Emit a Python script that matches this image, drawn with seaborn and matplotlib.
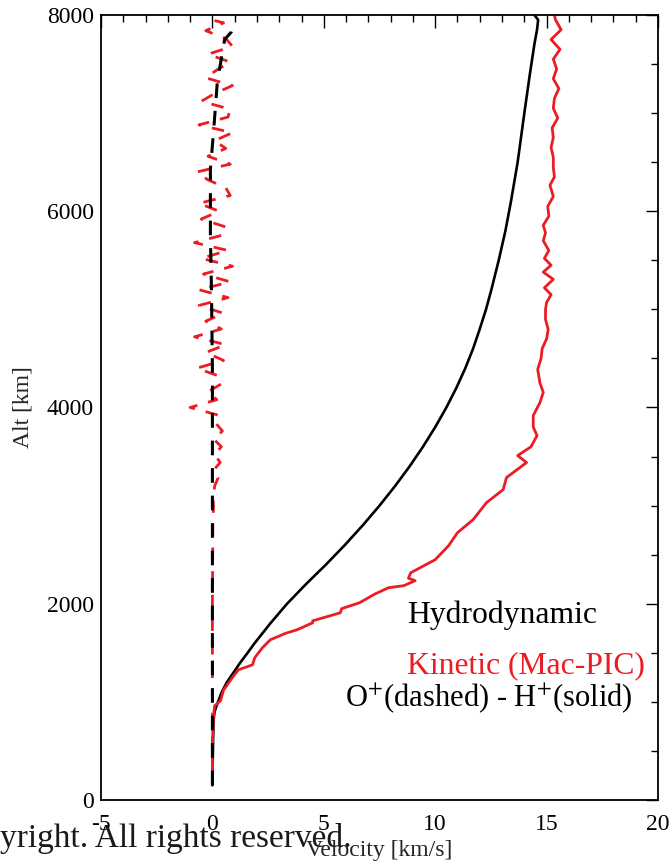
import numpy as np
import pandas as pd
import seaborn as sns
import matplotlib.pyplot as plt
from matplotlib.ticker import MultipleLocator

# H+ hydrodynamic (solid black)
h_hyd_alt = [150, 600, 800, 850, 900, 950, 1000, 1100, 1200, 1300, 1400, 1500, 1600, 1800, 2000,
             2200, 2400, 2600, 2800, 3000, 3200, 3400, 3600, 3800, 4000, 4200, 4400, 4600, 4800,
             5000, 5200, 5500, 5800, 6100, 6500, 7000, 7400, 7700, 7850, 7950, 8000]
h_hyd_v = [0.0, 0.03, 0.05, 0.07, 0.1, 0.17, 0.25, 0.42, 0.65, 0.95, 1.25, 1.58, 1.9, 2.6, 3.35,
           4.2, 5.1, 5.95, 6.75, 7.5, 8.2, 8.85, 9.45, 10.0, 10.5, 10.95, 11.35, 11.7, 12.0,
           12.28, 12.52, 12.85, 13.15, 13.4, 13.7, 14.0, 14.25, 14.45, 14.57, 14.62, 14.45]

# H+ kinetic (solid red)
h_kin_alt = [280, 500, 800, 918, 960, 1010, 1120, 1250, 1327, 1378, 1450, 1551, 1633, 1700, 1735,
             1806, 1826, 1908, 1950, 2010, 2100, 2163, 2185, 2235, 2260, 2316, 2449, 2592, 2724,
             2857, 3030, 3163, 3286, 3439, 3510, 3600, 3714, 3800, 3918, 4050, 4153, 4250, 4388,
             4500, 4600, 4700, 4796, 4900, 5000, 5071, 5150, 5220, 5306, 5380, 5450, 5520, 5600,
             5700, 5780, 5857, 5950, 6050, 6150, 6265, 6350, 6450, 6550, 6650, 6750, 6850, 6950,
             7050, 7150, 7250, 7350, 7450, 7550, 7650, 7750, 7850, 7950, 8000]
h_kin_v = [0.0, 0.0, 0.03, 0.08, 0.1, 0.36, 0.5, 0.9, 1.17, 1.8, 1.9, 2.24, 2.6, 3.3, 3.8,
           4.5, 4.5, 5.74, 5.8, 6.6, 7.3, 7.9, 8.6, 9.1, 8.8, 8.9, 10.0, 10.6, 11.0,
           11.7, 12.3, 13.05, 13.2, 14.1, 13.7, 14.3, 14.57, 14.4, 14.4, 14.7, 14.85, 14.7, 14.6,
           14.75, 14.8, 15.0, 15.07, 14.95, 14.95, 15.0, 15.2, 14.9, 15.3, 14.85, 15.2, 14.9, 15.1,
           14.85, 14.95, 14.85, 15.1, 15.05, 15.3, 15.15, 15.35, 15.3, 15.3, 15.2, 15.3, 15.25, 15.5,
           15.3, 15.35, 15.55, 15.3, 15.45, 15.3, 15.6, 15.2, 15.65, 15.4, 15.35]

# O+ hydrodynamic (dashed black)
o_hyd_alt = [150, 1000, 2000, 3000, 4390, 5170, 5755, 6430, 6806, 7316, 7622, 7750, 7827, 7870]
o_hyd_v = [0.0, 0.0, 0.0, 0.0, 0.0, -0.04, -0.09, -0.09, 0.05, 0.22, 0.45, 0.55, 0.85, 0.9]

# O+ kinetic (dashed red)
o_kin_alt = [280, 1000, 2000, 2800, 3000, 3100, 3160,
             3200, 3280, 3360, 3440, 3520, 3600, 3680, 3760, 3840, 3920,
             4000, 4080, 4160, 4240, 4320, 4400, 4480, 4560, 4640, 4720,
             4800, 4880, 4960, 5040, 5120, 5200, 5280, 5360, 5440, 5520,
             5600, 5680, 5760, 5840, 5920, 6000, 6080, 6160, 6240, 6320,
             6400, 6480, 6560, 6640, 6720, 6800, 6880, 6960, 7040, 7120,
             7200, 7280, 7360, 7440, 7520, 7600, 7680, 7760, 7840, 7920, 7960]
o_kin_v = [0.0, 0.0, 0.0, 0.02, 0.05, 0.02, 0.08,
           0.1, 0.25, 0.05, 0.35, 0.1, 0.4, 0.05, 0.45, 0.15, 0.3,
           -1.0, 0.2, -0.2, 0.4, 0.3, -0.7, 0.5, -0.3, 0.6, -0.8,
           0.4, -0.3, 0.5, -0.6, 0.7, -0.6, 0.8, -0.4, 0.9, -0.5,
           0.7, -0.8, 0.5, 0.6, -0.5, 0.3, -0.6, 0.8, 0.6, -0.2,
           -0.7, 0.8, -0.2, 0.6, 0.1, 0.9, -0.6, 0.7, 0.8, -0.5,
           0.1, 0.9, -0.3, 0.2, 0.8, -0.2, 0.9, 0.6, -0.3, 0.5, -0.2]

red = "#ec1c24"

sns.set_style("white")
plt.rcParams["font.family"] = ["Liberation Serif", "DejaVu Serif"]
plt.rcParams["mathtext.fontset"] = "stix"
plt.rcParams["axes.unicode_minus"] = False

fig = plt.figure(figsize=(6.72, 8.66), dpi=100)
ax = fig.add_axes([0.1503, 0.0762, 0.8289, 0.9065])

sns.lineplot(x=h_hyd_v, y=h_hyd_alt, sort=False, estimator=None, color="black", lw=1.9, ax=ax)
sns.lineplot(x=h_kin_v, y=h_kin_alt, sort=False, estimator=None, color=red, lw=2.0, ax=ax)
sns.lineplot(x=o_kin_v, y=o_kin_alt, sort=False, estimator=None, color=red, lw=2.0,
             linestyle=(0, (4.5, 4.0)), ax=ax)
sns.lineplot(x=o_hyd_v, y=o_hyd_alt, sort=False, estimator=None, color="black", lw=2.2,
             linestyle=(0, (4.8, 4.2)), ax=ax)

ax.set_xlim(-5, 20)
ax.set_ylim(0, 8000)
ax.xaxis.set_major_locator(MultipleLocator(5))
ax.xaxis.set_minor_locator(MultipleLocator(1))
ax.yaxis.set_major_locator(MultipleLocator(2000))
ax.yaxis.set_minor_locator(MultipleLocator(500))
ax.tick_params(which="both", direction="in", top=True, right=True, width=1.0, labelsize=17,
               colors="black")
ax.tick_params(axis="x", pad=10)
ax.tick_params(axis="y", pad=5)
ax.tick_params(which="major", length=9)
ax.tick_params(which="minor", length=5)
for s in ax.spines.values():
    s.set_linewidth(1.3)
    s.set_color("black")

ax.set_xlabel("Velocity [km/s]", fontsize=17, labelpad=4)
ax.set_ylabel("Alt [km]", fontsize=17, labelpad=10)

fig.text(407 / 672, 1 - 623 / 866, "Hydrodynamic", fontsize=22.8, color="black", va="baseline")
fig.text(407 / 672, 1 - 673 / 866, "Kinetic (Mac-PIC)", fontsize=22.8, color=red, va="baseline")
fig.text(345 / 672, 1 - 706 / 866, "O$^{+}$(dashed) - H$^{+}$(solid)", fontsize=22,
         color="black", va="baseline")

fig.text(0.0, 1 - 847 / 866, "yright. All rights reserved.", fontsize=24, color="#1a1a1a",
         va="baseline", ha="left", zorder=10)

fig.savefig("out.png", dpi=100)
